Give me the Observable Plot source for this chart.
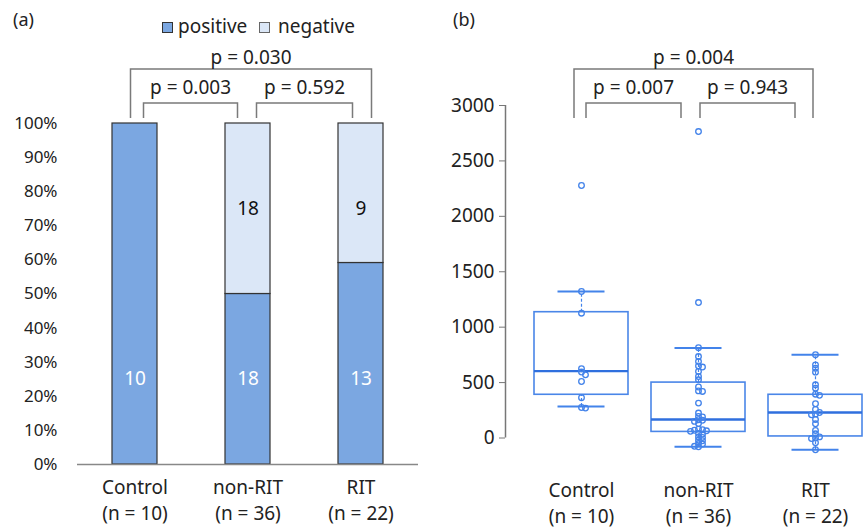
<!DOCTYPE html>
<html>
<head>
<meta charset="utf-8">
<script src="https://cdn.jsdelivr.net/npm/d3@7"></script>
<script src="https://cdn.jsdelivr.net/npm/@observablehq/plot@0.6"></script>
<style>
  html, body { margin: 0; padding: 0; background: #fff; overflow: hidden; }
  #wrap { position: relative; width: 864px; height: 529px; overflow: hidden; font-family: "Noto Sans", sans-serif; color: #222; }
  .panel { position: absolute; top: 0; height: 529px; overflow: hidden; }
  .tag { position: absolute; top: 7px; font-size: 18px; line-height: normal; }
  .lg { position: absolute; font-size: 19px; line-height: normal; top: 13px; }
  .sw { position: absolute; top: 22px; width: 11px; height: 11px; box-sizing: border-box; border: 1px solid #333; }
</style>
</head>
<body>
<div id="wrap">
  <div id="panelA" class="panel" style="left:0;width:440px"></div>
  <div id="panelB" class="panel" style="left:440px;width:424px"></div>
  <div class="tag" style="left:13px">(a)</div>
  <div class="tag" style="left:453px">(b)</div>
  <div id="legend"></div>
</div>
<script>
// ---------- data ----------
const groups = ["Control", "non-RIT", "RIT"];
const groupN = [10, 36, 22];
const statuses = ["positive", "negative"];
const positiveCounts = [10, 18, 13];
const negativeCounts = [0, 18, 9];
const labelLevels = [0.25, 0.75]; // where the count labels sit (share of bar)

const comparisonsA = [["Control", "non-RIT"], ["non-RIT", "RIT"], ["Control", "RIT"]];
const pValuesA = ["0.003", "0.592", "0.030"];
const comparisonsB = [["Control", "non-RIT"], ["non-RIT", "RIT"], ["Control", "RIT"]];
const pValuesB = ["0.007", "0.943", "0.004"];

const controlValues = [2278, 1322, 1126, 625, 595, 570, 510, 363, 275, 270];
const nonRitValues = [2765, 1222, 815, 735, 690, 650, 640, 600, 555, 525, 460, 425, 420, 315, 225, 195, 190,
  165, 160, 150, 130, 80, 75, 70, 65, 60, 40, 35, 10, 5, -20, -25, -50, -55, -75, -80];
const ritValues = [751, 660, 630, 594, 480, 450, 395, 385, 309, 257, 230, 215, 210, 167, 128, 68, 38, 10, 0, -5, -43, -106];

const boxLow = [284, -78, -106];
const boxQ1 = [390, 55, 14];
const boxMedian = [603, 167, 230];
const boxQ3 = [1135, 500, 390];
const boxHigh = [1322, 812, 751];

// ---------- styles ----------
const posColor = "#7ba7e1";
const negColor = "#dbe7f7";
const blue = "#4383ea";
const bracketColor = "#7a7a7a";
const font = "'Noto Sans', sans-serif";

// legend (HTML, above the charts)
const legend = document.getElementById("legend");
legend.innerHTML =
  `<div class="sw" style="left:162px;background:${posColor}"></div><div class="lg" style="left:178px">positive</div>` +
  `<div class="sw" style="left:259px;background:${negColor};border-color:#666"></div><div class="lg" style="left:278px">negative</div>`;

// ---------- panel (a) ----------
const rowsA = groups.flatMap((g, i) => statuses.map((s, j) => ({
  group: g, status: s,
  count: j === 0 ? positiveCounts[i] : negativeCounts[i],
  labelY: labelLevels[j]
}))).filter(d => d.count > 0);

const chartA = Plot.plot({
  width: 440, height: 529,
  marginLeft: 77, marginRight: 22, marginTop: 123, marginBottom: 65,
  style: {fontFamily: font, fontSize: "17px", color: "#222", background: "transparent"},
  x: {domain: groups, paddingInner: 0.6, paddingOuter: 0.3, axis: null},
  y: {domain: [0, 1], range: [464, 123], ticks: 10, tickFormat: d3.format(".0%"), tickSize: 0, tickPadding: 20, label: null},
  color: {domain: statuses, range: [posColor, negColor]},
  marks: [
    Plot.barY(rowsA, {x: "group", y: "count", fill: "status", offset: "normalize", stroke: "#333", strokeWidth: 1.2}),
    Plot.ruleY([0], {stroke: "#888", strokeWidth: 1.5}),
    Plot.text(rowsA.filter(d => d.status === "positive"), {x: "group", y: "labelY", text: d => String(d.count), fill: "white", fontSize: 19}),
    Plot.text(rowsA.filter(d => d.status === "negative"), {x: "group", y: "labelY", text: d => String(d.count), fill: "#111", fontSize: 19}),
    Plot.text(groups, {x: d => d, frameAnchor: "bottom", text: (d, i) => `${d}\n(n = ${groupN[i]})`,
      dy: 34, fontSize: 19, lineHeight: 1.37, lineAnchor: "middle", fill: "#222"})
  ]
});
document.getElementById("panelA").appendChild(chartA);

// ---------- panel (b) ----------
const yOptsB = {domain: [0, 3000], range: [437.5, 105]};
const yScaleB = Plot.scale({y: yOptsB});

function swarmSlots(values) {
  const order = d3.range(values.length).sort((i, j) => values[j] - values[i]);
  const placed = [];
  const slots = new Array(values.length);
  for (const i of order) {
    const py = yScaleB.apply(values[i]);
    for (let k = 0; ; k++) {
      const s = k === 0 ? 0 : (k % 2 ? (k + 1) / 2 : -k / 2);
      if (!placed.some(p => p.slot === s && Math.abs(p.py - py) < 3.2)) {
        placed.push({py, slot: s});
        slots[i] = s;
        break;
      }
    }
  }
  return slots;
}

const seriesB = [controlValues, nonRitValues, ritValues];
const pointsB = seriesB.flatMap((vals, gi) => {
  const slots = swarmSlots(vals);
  return vals.map((v, i) => ({group: groups[gi], value: v, slot: slots[i]}));
});
const statsB = groups.map((g, i) => ({group: g, lo: boxLow[i], q1: boxQ1[i], med: boxMedian[i], q3: boxQ3[i], hi: boxHigh[i]}));

const dotMarks = d3.groups(pointsB, d => d.slot).map(([s, pts]) =>
  Plot.dot(pts, {x: "group", y: "value", dx: s * 4, r: 2.8, stroke: blue, strokeWidth: 1.3, fill: "none"}));

const chartB = Plot.plot({
  width: 424, height: 529,
  marginLeft: 65, marginRight: 0, marginTop: 105, marginBottom: 91.5,
  style: {fontFamily: font, fontSize: "19px", color: "#222", background: "transparent"},
  x: {domain: groups, range: [69.5, 445.5], padding: 0.2, axis: null},
  y: {...yOptsB, ticks: 6, tickFormat: "d", tickSize: 6, tickPadding: 5, label: null},
  marks: [
    Plot.ruleX(statsB, {x: "group", y1: "q3", y2: "hi", stroke: blue, strokeWidth: 1.2, strokeDasharray: "3,2"}),
    Plot.ruleX(statsB, {x: "group", y1: "lo", y2: "q1", stroke: blue, strokeWidth: 1.2, strokeDasharray: "3,2"}),
    Plot.barY(statsB, {x: "group", y1: "q1", y2: "q3", fill: "none", stroke: "#4a86e8", strokeWidth: 1.6}),
    Plot.tickY(statsB, {x: "group", y: "med", stroke: "#2f6fde", strokeWidth: 2.4}),
    Plot.tickY(statsB, {x: "group", y: "hi", inset: 23.5, stroke: blue, strokeWidth: 2}),
    Plot.tickY(statsB, {x: "group", y: "lo", inset: 23.5, stroke: blue, strokeWidth: 2}),
    ...dotMarks,
    Plot.text(groups, {x: d => d, frameAnchor: "bottom", text: (d, i) => `${d}\n(n = ${groupN[i]})`,
      dy: 64, fontSize: 19, lineHeight: 1.33, lineAnchor: "middle", fill: "#222"})
  ]
});
document.getElementById("panelB").appendChild(chartB);

// axis line for (b)
{
  const ys = chartB.scale("y");
  d3.select(chartB).append("line")
    .attr("x1", 65.5).attr("x2", 65.5)
    .attr("y1", ys.apply(0)).attr("y2", ys.apply(3000))
    .attr("stroke", "#777").attr("stroke-width", 1.5);
  d3.select(chartB).selectAll('g[aria-label="y-axis tick"]').attr("stroke", "#777");
}

// ---------- significance brackets ----------
function drawBrackets(chart, comparisons, pvals, offsets) {
  const xs = chart.scale("x");
  const c = v => xs.apply(v) + (xs.bandwidth || 0) / 2;
  const g = d3.select(chart).append("g").attr("fill", "none");
  comparisons.forEach(([a, b], i) => {
    const outer = i === 2;
    const yTop = outer ? 69 : 103, yBot = 118;
    const [da, db] = offsets[i];
    const x1 = c(a) + da, x2 = c(b) + db;
    g.append("path")
      .attr("d", `M${x1},${yBot}V${yTop}H${x2}V${yBot}`)
      .attr("stroke", bracketColor).attr("stroke-width", 1.5);
    d3.select(chart).append("text")
      .attr("x", (x1 + x2) / 2).attr("y", outer ? 64 : 94)
      .attr("text-anchor", "middle")
      .attr("font-family", font).attr("font-size", 19).attr("fill", "#222")
      .text(`p = ${pvals[i]}`);
  });
}
drawBrackets(chartA, comparisonsA, pValuesA, [[9, -10], [9, -8], [-4, 11]]);
drawBrackets(chartB, comparisonsB, pValuesB, [[5, -17], [2, -20], [-7, -2]]);
</script>
</body>
</html>
